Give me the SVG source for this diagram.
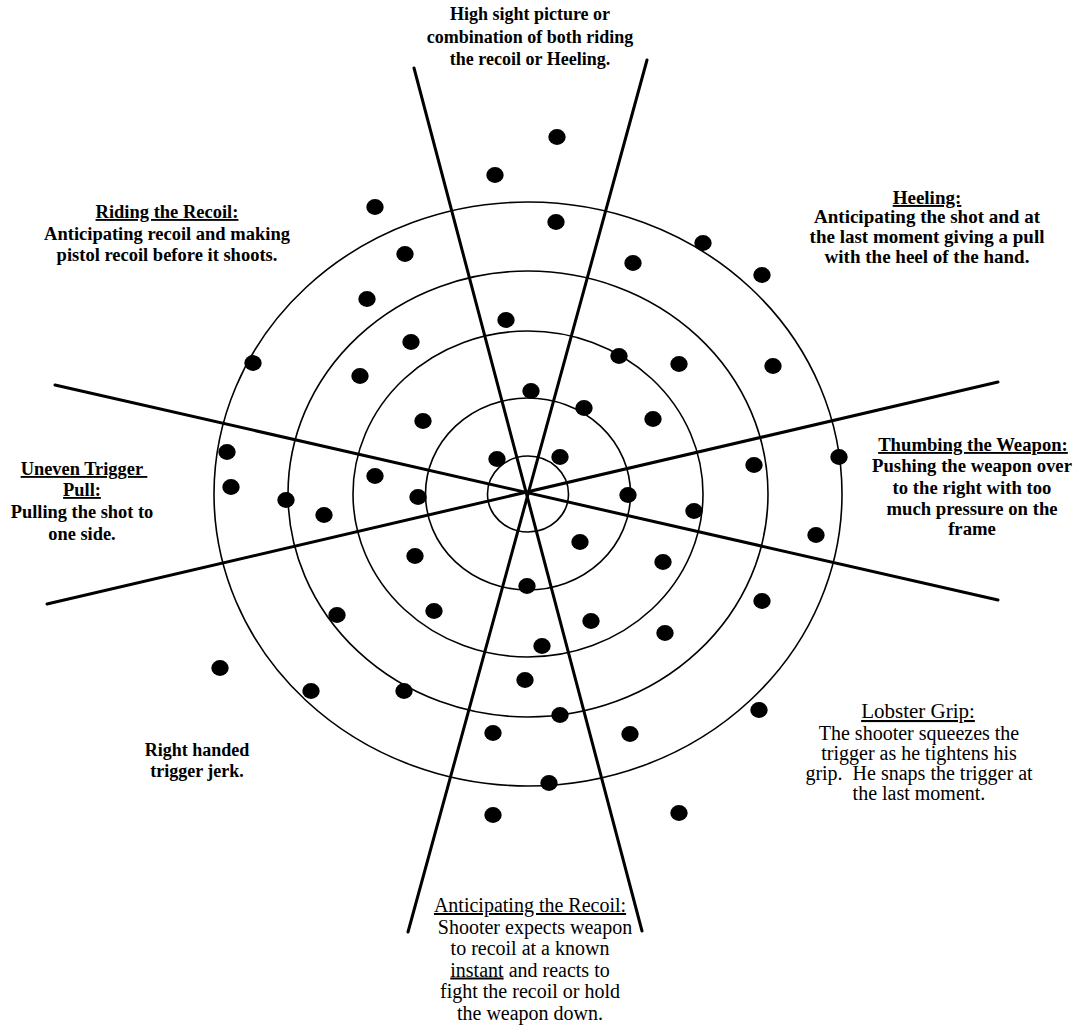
<svg xmlns="http://www.w3.org/2000/svg" xmlns:xlink="http://www.w3.org/1999/xlink" width="1078" height="1030" viewBox="0 0 1078 1030">
<defs>
<style>
.ring{fill:none;stroke:#000;stroke-width:1.6}
.ax{stroke:#000;stroke-width:3;stroke-linecap:round}
.b{font-family:"Liberation Serif","Times New Roman",serif;font-weight:bold;fill:#000;text-anchor:middle}
.r{font-family:"Liberation Serif","Times New Roman",serif;font-weight:normal;fill:#000;text-anchor:middle}
.u{text-decoration:underline}
</style>
<ellipse id="dot" cx="0" cy="0" rx="8.7" ry="7.9" fill="#000"/>
</defs>
<rect width="1078" height="1030" fill="#fff"/>
<g id="target">
<ellipse class="ring" cx="528" cy="494" rx="40.5" ry="38"/>
<ellipse class="ring" cx="528" cy="494" rx="102.5" ry="96"/>
<ellipse class="ring" cx="528" cy="494" rx="175" ry="163"/>
<ellipse class="ring" cx="528" cy="494" rx="240" ry="223"/>
<ellipse class="ring" cx="528" cy="494" rx="314" ry="292"/>
</g>
<g id="connectors">
<line class="ax" x1="414" y1="68" x2="642" y2="931"/>
<line class="ax" x1="647" y1="60" x2="408" y2="932"/>
<line class="ax" x1="55" y1="385" x2="998" y2="600"/>
<line class="ax" x1="47" y1="604" x2="998" y2="382"/>
</g>
<g id="shots">
<use href="#dot" x="557" y="137"/>
<use href="#dot" x="495" y="175"/>
<use href="#dot" x="375" y="207"/>
<use href="#dot" x="556" y="222"/>
<use href="#dot" x="703" y="243"/>
<use href="#dot" x="405" y="254"/>
<use href="#dot" x="633" y="263"/>
<use href="#dot" x="762" y="275"/>
<use href="#dot" x="367" y="299"/>
<use href="#dot" x="506" y="320"/>
<use href="#dot" x="411" y="342"/>
<use href="#dot" x="253" y="363"/>
<use href="#dot" x="619" y="356"/>
<use href="#dot" x="679" y="364"/>
<use href="#dot" x="773" y="366"/>
<use href="#dot" x="360" y="376"/>
<use href="#dot" x="531" y="391"/>
<use href="#dot" x="584" y="408"/>
<use href="#dot" x="423" y="421"/>
<use href="#dot" x="653" y="419"/>
<use href="#dot" x="227" y="452"/>
<use href="#dot" x="497" y="459"/>
<use href="#dot" x="560" y="457"/>
<use href="#dot" x="754" y="465"/>
<use href="#dot" x="839" y="457"/>
<use href="#dot" x="231" y="487"/>
<use href="#dot" x="375" y="476"/>
<use href="#dot" x="286" y="500"/>
<use href="#dot" x="418" y="497"/>
<use href="#dot" x="628" y="495"/>
<use href="#dot" x="324" y="515"/>
<use href="#dot" x="694" y="511"/>
<use href="#dot" x="816" y="535"/>
<use href="#dot" x="580" y="542"/>
<use href="#dot" x="415" y="556"/>
<use href="#dot" x="663" y="562"/>
<use href="#dot" x="527" y="586"/>
<use href="#dot" x="762" y="601"/>
<use href="#dot" x="337" y="615"/>
<use href="#dot" x="434" y="611"/>
<use href="#dot" x="591" y="621"/>
<use href="#dot" x="542" y="646"/>
<use href="#dot" x="665" y="633"/>
<use href="#dot" x="220" y="668"/>
<use href="#dot" x="525" y="680"/>
<use href="#dot" x="311" y="691"/>
<use href="#dot" x="404" y="691"/>
<use href="#dot" x="759" y="710"/>
<use href="#dot" x="560" y="715"/>
<use href="#dot" x="493" y="733"/>
<use href="#dot" x="630" y="734"/>
<use href="#dot" x="549" y="783"/>
<use href="#dot" x="493" y="815"/>
<use href="#dot" x="679" y="813"/>
</g>
<g id="label-high">
<text class="b" font-size="18" x="530" y="20">High sight picture or</text>
<text class="b" font-size="18" x="530" y="43">combination of both riding</text>
<text class="b" font-size="18" x="530" y="65">the recoil or Heeling.</text>
</g>
<g id="label-riding">
<text class="b u" font-size="18.5" x="167" y="218">Riding the Recoil:</text>
<text class="b" font-size="18.5" x="167" y="239.5">Anticipating recoil and making</text>
<text class="b" font-size="18.5" x="167" y="260.5">pistol recoil before it shoots.</text>
</g>
<g id="label-heeling">
<text class="b u" font-size="19" x="927" y="204">Heeling:</text>
<text class="b" font-size="19" x="927" y="223">Anticipating the shot and at</text>
<text class="b" font-size="19" x="927" y="243">the last moment giving a pull</text>
<text class="b" font-size="19" x="927" y="263">with the heel of the hand.</text>
</g>
<g id="label-thumbing">
<text class="b u" font-size="18.7" x="973" y="451">Thumbing the Weapon:</text>
<text class="b" font-size="18.7" x="972" y="472">Pushing the weapon over</text>
<text class="b" font-size="18.7" x="972" y="494">to the right with too</text>
<text class="b" font-size="18.7" x="972" y="515">much pressure on the</text>
<text class="b" font-size="18.7" x="972" y="535">frame</text>
</g>
<g id="label-uneven">
<text class="b u" font-size="18.4" x="84" y="475" style="white-space:pre">Uneven Trigger </text>
<text class="b u" font-size="18.4" x="82" y="496">Pull:</text>
<text class="b" font-size="18.4" x="82" y="518">Pulling the shot to</text>
<text class="b" font-size="18.4" x="82" y="540">one side.</text>
</g>
<g id="label-right">
<text class="b" font-size="18" x="197" y="756">Right handed</text>
<text class="b" font-size="18" x="197" y="777">trigger jerk.</text>
</g>
<g id="label-lobster">
<text class="r u" font-size="21" x="918" y="718">Lobster Grip:</text>
<text class="r" font-size="20" x="919" y="740">The shooter squeezes the</text>
<text class="r" font-size="20" x="919" y="760">trigger as he tightens his</text>
<text class="r" font-size="20" x="919" y="780" style="white-space:pre">grip.  He snaps the trigger at</text>
<text class="r" font-size="20" x="919" y="800">the last moment.</text>
</g>
<g id="label-anticipating">
<text class="r u" font-size="20" x="530" y="912">Anticipating the Recoil:</text>
<text class="r" font-size="20" x="535" y="933.5">Shooter expects weapon</text>
<text class="r" font-size="20" x="530" y="955">to recoil at a known</text>
<text class="r" font-size="20" x="530" y="976.5"><tspan class="u">instant</tspan> and reacts to</text>
<text class="r" font-size="20" x="530" y="998">fight the recoil or hold</text>
<text class="r" font-size="20" x="530" y="1019.5">the weapon down.</text>
</g>
</svg>
